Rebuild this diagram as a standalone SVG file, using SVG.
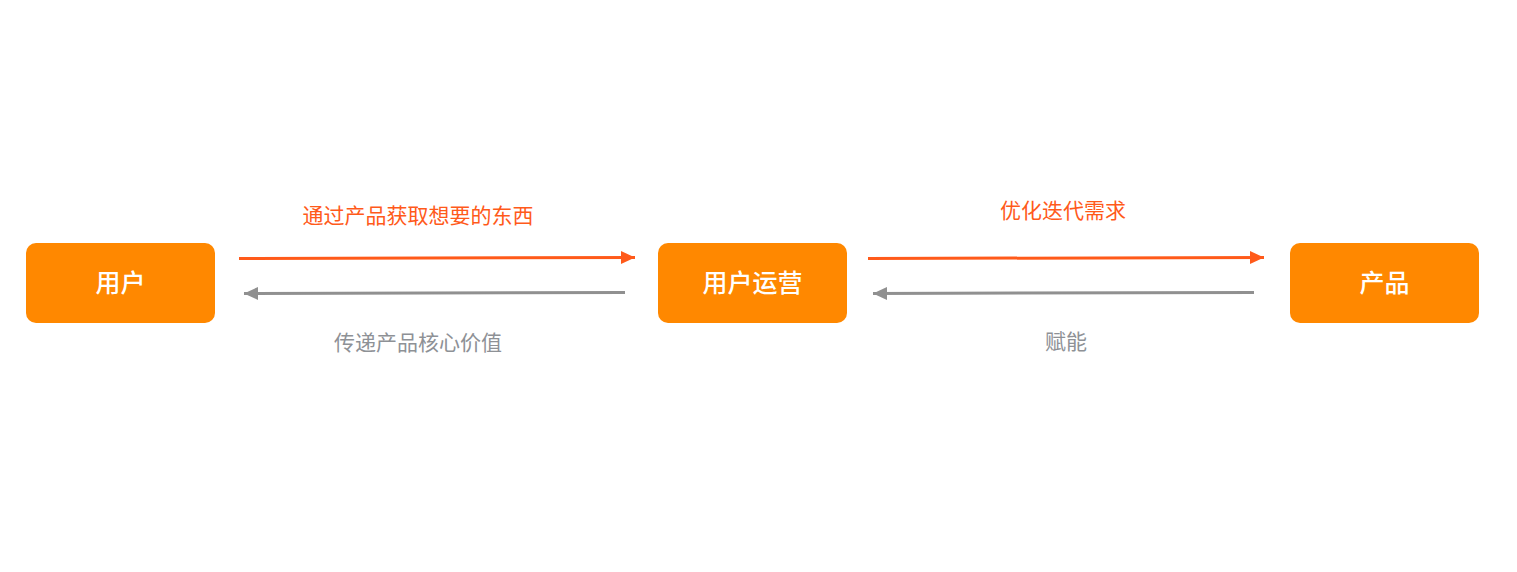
<svg xmlns="http://www.w3.org/2000/svg" width="1517" height="572" viewBox="0 0 1517 572">
<style>
.node rect{fill:#FF8800;}
.node text{fill:#FFFFFF;font-family:"Noto Sans CJK SC","Noto Sans",sans-serif;font-size:25px;font-weight:500;text-anchor:middle;}
.lbl{font-family:"Noto Sans CJK SC","Noto Sans",sans-serif;font-size:21px;text-anchor:middle;}
.o{fill:#FF5A1A;}
.g{fill:#8E9196;}
.lo{stroke:#FF5A1A;stroke-width:3;fill:none;}
.lg{stroke:#909090;stroke-width:3;fill:none;}
</style>
<defs>
<marker id="ao" markerUnits="userSpaceOnUse" markerWidth="16" markerHeight="16" refX="14" refY="8" orient="auto"><path d="M0,1.5 L14,8 L0,14.5 Z" fill="#FF5A1A"/></marker>
<marker id="ag" markerUnits="userSpaceOnUse" markerWidth="16" markerHeight="16" refX="14" refY="8" orient="auto"><path d="M0,1.5 L14,8 L0,14.5 Z" fill="#909090"/></marker>
</defs>
<rect width="1517" height="572" fill="#FFFFFF"/>
<g id="n1" class="node"><rect x="26" y="243" width="189" height="80" rx="10"/><text x="120.5" y="292">用户</text></g>
<g id="n2" class="node"><rect x="658" y="243" width="189" height="80" rx="10"/><text x="752.5" y="292">用户运营</text></g>
<g id="n3" class="node"><rect x="1290" y="243" width="189" height="80" rx="10"/><text x="1384.5" y="292">产品</text></g>
<g id="connectors">
<line class="lo" x1="239" y1="258.5" x2="635" y2="257.5" marker-end="url(#ao)"/>
<line class="lg" x1="625" y1="292.5" x2="244" y2="293.5" marker-end="url(#ag)"/>
<line class="lo" x1="868" y1="258.5" x2="1264" y2="257.5" marker-end="url(#ao)"/>
<line class="lg" x1="1254" y1="292.5" x2="873" y2="293.5" marker-end="url(#ag)"/>
<text class="lbl o" x="418" y="223">通过产品获取想要的东西</text>
<text class="lbl g" x="418" y="350">传递产品核心价值</text>
<text class="lbl o" x="1063" y="218">优化迭代需求</text>
<text class="lbl g" x="1066" y="349">赋能</text>
</g>
</svg>
